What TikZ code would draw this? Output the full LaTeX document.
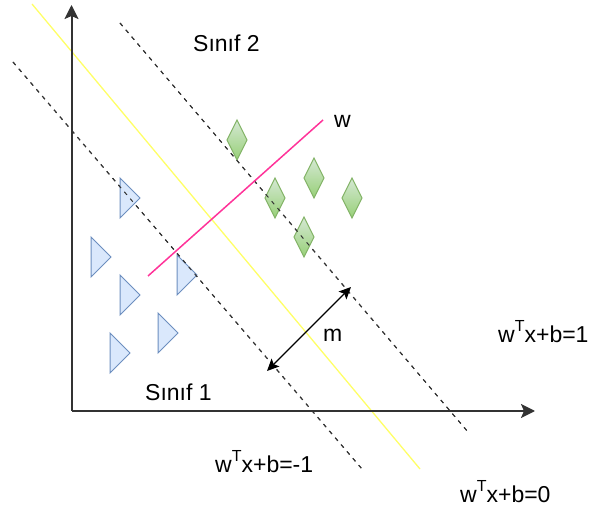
\documentclass[tikz,border=0pt]{standalone}
\usepackage{fontspec}
\setmainfont{Liberation Sans}
\usetikzlibrary{arrows.meta}
\definecolor{axisc}{HTML}{333333}
\definecolor{pinkc}{HTML}{FF3399}
\definecolor{yellowc}{HTML}{FFFF66}
\definecolor{trifill}{HTML}{DAE8FC}
\definecolor{tridraw}{HTML}{6C8EBF}
\definecolor{diamtop}{HTML}{D5E8D4}
\definecolor{diambot}{HTML}{97D077}
\definecolor{diamdraw}{HTML}{82B366}
\newcommand{\supT}{\raisebox{11pt}{\fontsize{16}{16}\selectfont T}}
\tikzset{
  lbl/.style={anchor=base west, inner sep=0pt, font=\fontsize{23}{27}\selectfont, text=black},
  axisline/.style={draw=axisc, line width=2pt, -{Stealth[length=14pt,width=14pt,inset=3pt]}},
  dashline/.style={draw=axisc, line width=1pt, dash pattern=on 4pt off 5pt},
  tristyle/.style={fill=trifill, draw=tridraw, line width=1pt},
  diamstyle/.style={top color=diamtop, bottom color=diambot, draw=diamdraw, line width=1pt},
  tri/.pic={\path[tristyle] (0,-20) -- (20,0) -- (0,20) -- cycle;},
  diam/.pic={\path[diamstyle] (0,-20) -- (10,0) -- (0,20) -- (-10,0) -- cycle;},
}
\begin{document}
\begin{tikzpicture}[x=1pt,y=-1pt]
\useasboundingbox (0,0) rectangle (589,510);
% coordinates
\coordinate (O) at (71.5,411);
\coordinate (Ytip) at (71.5,5);
\coordinate (Xtip) at (535,411);
\coordinate (la) at (13,62);
\coordinate (lb) at (362,469);
\coordinate (ua) at (120,23);
\coordinate (ub) at (468,432);
\coordinate (ya) at (32,4);
\coordinate (yb) at (420,469);
\coordinate (pa) at (148,276);
\coordinate (pb) at (323,120);
\coordinate (ma) at (267,371);
\coordinate (mb) at (351,287);
% separating lines
\draw[yellowc, line width=1.3pt] (ya) -- (yb);
\draw[dashline] (la) -- (lb);
\draw[dashline] (ua) -- (ub);
% class 1 triangles
\pic (t1) at (120,198) {tri};
\pic (t2) at (91,257) {tri};
\pic (t3) at (120,295) {tri};
\pic (t4) at (177,275) {tri};
\pic (t5) at (158,333) {tri};
\pic (t6) at (110,353) {tri};
% class 2 diamonds
\pic (d1) at (237,140) {diam};
\pic (d2) at (275,198) {diam};
\pic (d3) at (314,178) {diam};
\pic (d4) at (352,198) {diam};
\pic (d5) at (304,237) {diam};
% dashed lines over shapes
\draw[dashline] (la) -- (lb);
\draw[dashline] (ua) -- (ub);
% w vector
\draw[pinkc, line width=1.5pt] (pa) -- (pb);
% axes
\draw[axisline] (O) -- (Ytip);
\draw[axisline] (O) -- (Xtip);
% margin arrow
\draw[black, line width=1.2pt, {Stealth[length=12pt,width=11pt,inset=2.5pt]}-{Stealth[length=12pt,width=11pt,inset=2.5pt]}] (ma) -- (mb);
% labels
\node[lbl] (s2) at (193,52) {Sınıf 2};
\node[lbl] (s1) at (145,400) {Sınıf 1};
\node[lbl] (wl) at (334,128) {w};
\node[lbl] (ml) at (323,342) {m};
\node[lbl] (e1) at (498,343) {w\supT x+b=1};
\node[lbl] (em1) at (215,472) {w\supT x+b=-1};
\node[lbl] (e0) at (460,502) {w\supT x+b=0};
\end{tikzpicture}
\end{document}
